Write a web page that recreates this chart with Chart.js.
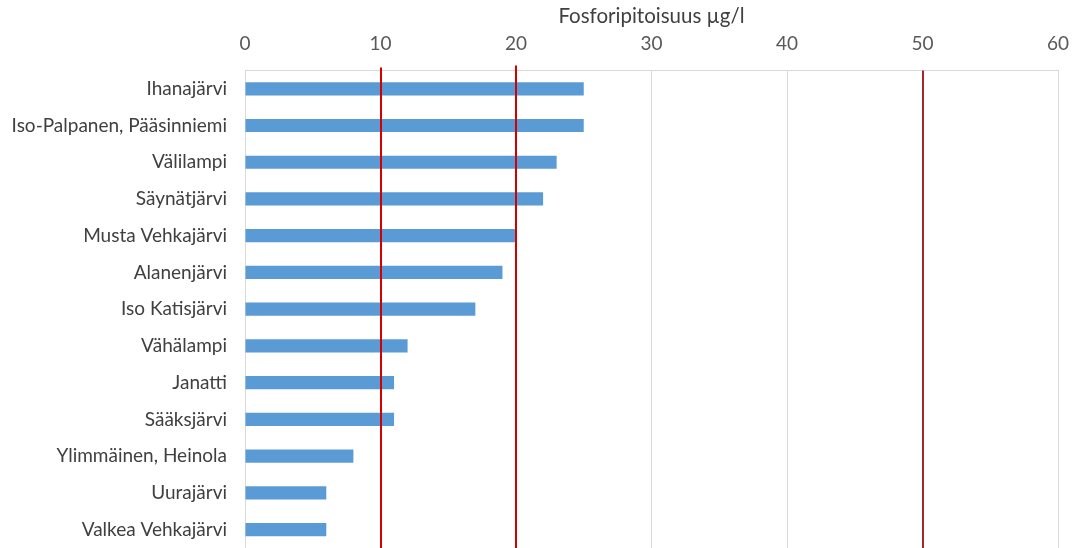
<!DOCTYPE html>
<html>
<head>
<meta charset="utf-8">
<script src="https://cdn.jsdelivr.net/npm/chart.js@4"></script>
<style>
  html, body { margin: 0; padding: 0; background: #fff; overflow: hidden; }
  #wrap { width: 1074px; height: 548px; position: relative; }
</style>
</head>
<body>
<div id="wrap"><canvas id="c"></canvas></div>
<script>
// Lakes and their total phosphorus concentration (µg/l)
const lakes = [
  'Ihanajärvi',
  'Iso-Palpanen, Pääsinniemi',
  'Välilampi',
  'Säynätjärvi',
  'Musta Vehkajärvi',
  'Alanenjärvi',
  'Iso Katisjärvi',
  'Vähälampi',
  'Janatti',
  'Sääksjärvi',
  'Ylimmäinen, Heinola',
  'Uurajärvi',
  'Valkea Vehkajärvi'
];
const phosphorus = [25, 25, 23, 22, 20, 19, 17, 12, 11, 11, 8, 6, 6];

// Threshold levels marked with vertical lines
const thresholds = [10, 20, 50];
const thresholdColors = ['#D40000', '#D40000', '#A8262B'];

const axisTitle = 'Fosforipitoisuus µg/l';
const xMin = 0, xMax = 60, xStep = 10;

const thresholdPlugin = {
  id: 'thresholdLines',
  afterDatasetsDraw(chart, args, opts) {
    const { ctx, chartArea, scales } = chart;
    ctx.save();
    thresholds.forEach((v, i) => {
      const x = Math.round(scales.x.getPixelForValue(v));
      const top = chartArea.top - (opts.overhang[i] || 0);
      ctx.strokeStyle = thresholdColors[i];
      ctx.lineWidth = opts.width;
      ctx.beginPath();
      ctx.moveTo(x, top);
      ctx.lineTo(x, chartArea.bottom);
      ctx.stroke();
    });
    ctx.restore();
  }
};

new Chart(document.getElementById('c'), {
  type: 'bar',
  data: {
    labels: lakes,
    datasets: [{
      data: phosphorus,
      backgroundColor: '#5B9BD5',
      borderWidth: 0,
      categoryPercentage: 1,
      barPercentage: 0.36
    }]
  },
  options: {
    indexAxis: 'y',
    responsive: true,
    maintainAspectRatio: false,
    animation: false,
    layout: { padding: { left: 0, right: 16, top: 4, bottom: 0 } },
    plugins: {
      legend: { display: false },
      tooltip: { enabled: false },
      thresholdLines: { width: 2, overhang: [3, 5, 0] }
    },
    scales: {
      x: {
        position: 'top',
        min: xMin,
        max: xMax,
        afterFit(scale) {
          scale.paddingLeft = 0;
          scale.paddingRight = 0;
          scale.height -= 11;
        },
        ticks: {
          stepSize: xStep,
          padding: 15,
          color: '#595959',
          font: { family: 'Lato', size: 19 }
        },
        grid: { color: '#D9D9D9', lineWidth: 1, drawTicks: false },
        border: { color: '#D9D9D9' },
        title: {
          display: true,
          text: axisTitle,
          color: '#404040',
          font: { family: 'Lato', size: 20.5 },
          padding: { top: 0, bottom: 0 }
        }
      },
      y: {
        afterFit(scale) {
          scale.width = 245;
          scale.paddingTop = 0;
          scale.paddingBottom = 0;
        },
        ticks: {
          padding: 18,
          color: '#404040',
          font: { family: 'Lato', size: 19 }
        },
        grid: { display: false, drawTicks: false },
        border: { color: '#D9D9D9' }
      }
    }
  },
  plugins: [thresholdPlugin]
});
</script>
</body>
</html>
